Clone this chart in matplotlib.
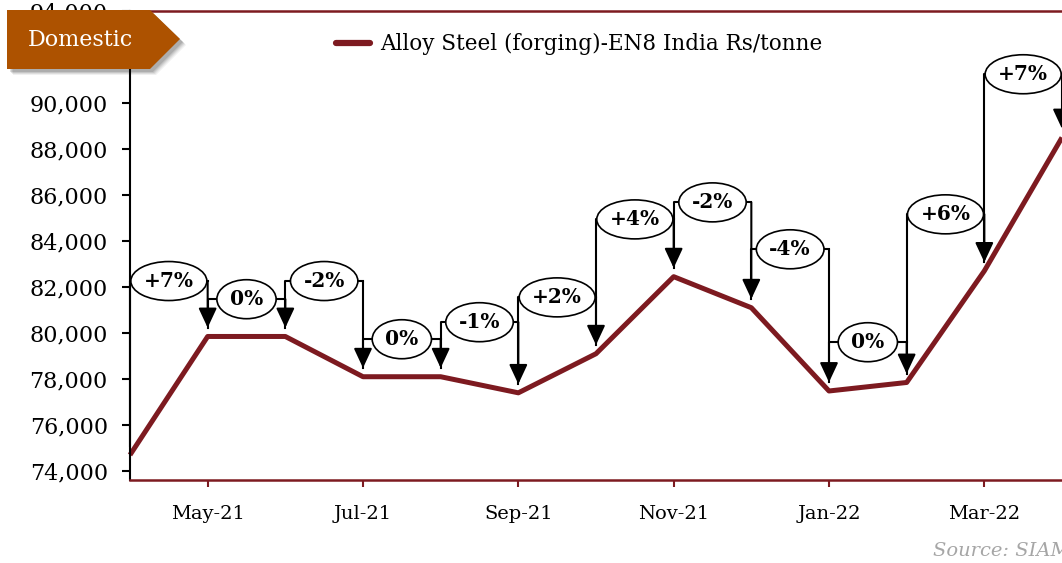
import matplotlib.pyplot as plt
from matplotlib.patches import Polygon, Ellipse
from matplotlib.ticker import FuncFormatter

# monthly price, Apr-21 .. Apr-22
months = ['Apr-21', 'May-21', 'Jun-21', 'Jul-21', 'Aug-21', 'Sep-21', 'Oct-21',
          'Nov-21', 'Dec-21', 'Jan-22', 'Feb-22', 'Mar-22', 'Apr-22']
prices = [74700, 79850, 79850, 78100, 78100, 77400, 79100,
          82450, 81100, 77480, 77850, 82700, 88500]

# month-on-month change callouts (label, height of the bracket)
change_labels = ['+7%', '0%', '-2%', '0%', '-1%', '+2%', '+4%', '-2%', '-4%', '0%', '+6%', '+7%']
label_levels = [82260, 81470, 82260, 79730, 80470, 81550, 84940, 85680, 83640, 79600, 85160, 91250]

yticks = list(range(74000, 94001, 2000))

LINE_RED = '#7D1A20'
BANNER = '#AD5200'
SERIF = ['DejaVu Serif']

W, H = 1062, 563
fig = plt.figure(figsize=(W / 100, H / 100), dpi=100)
ax = fig.add_axes([130 / W, 83 / H, 932 / W, 469 / H])

x = list(range(len(months)))
ax.plot(x, prices, color=LINE_RED, lw=3.6, solid_capstyle='butt', zorder=2,
        label='Alloy Steel (forging)-EN8 India Rs/tonne', clip_on=False)

ax.set_xlim(0, 12)
ax.set_ylim(73610, 94000)

# pixel -> data scale (axes box is fixed)
ax_w_px = 932
ax_h_px = 469
xs = (ax.get_xlim()[1] - ax.get_xlim()[0]) / ax_w_px
ys = (ax.get_ylim()[1] - ax.get_ylim()[0]) / ax_h_px

# difference arrows
gap = 380
labels = []
for i, (lab, lev) in enumerate(zip(change_labels, label_levels)):
    x0, x1 = x[i], x[i + 1]
    y0, y1 = prices[i], prices[i + 1]
    ax.plot([x0, x0, x1], [y0 + gap, lev, lev], color='black', lw=1.5,
            zorder=3, clip_on=False)
    ax.annotate('', xy=(x1, y1 + gap), xytext=(x1, lev),
                arrowprops=dict(arrowstyle='-|>,head_length=0.6,head_width=0.28',
                                mutation_scale=20, lw=1.5, color='black',
                                shrinkA=0, shrinkB=0),
                zorder=3, annotation_clip=False)
    t = ax.text((x0 + x1) / 2, lev, lab, ha='center', va='center', fontsize=14.5,
                fontweight='bold', family=SERIF, zorder=6, clip_on=False)
    labels.append(t)

fig.canvas.draw()
renderer = fig.canvas.get_renderer()
for t in labels:
    tw = t.get_window_extent(renderer).width
    cx, cy = t.get_position()
    ax.add_patch(Ellipse((cx, cy), (tw + 26) * xs, 39 * ys, fc='white',
                         ec='black', lw=1.2, zorder=5, clip_on=False))

ax.set_yticks(yticks)
ax.yaxis.set_major_formatter(FuncFormatter(lambda v, p: f'{int(v):,}'))
ax.set_xticks(x[1::2])
ax.set_xticklabels(months[1::2])

ax.tick_params(axis='y', direction='out', length=6, width=1.5, color='black',
               pad=10, labelsize=16)
ax.tick_params(axis='x', direction='out', length=5, width=1.5, color=LINE_RED,
               pad=13, labelsize=14)
for t in ax.get_xticklabels() + ax.get_yticklabels():
    t.set_family(SERIF)

ax.spines['right'].set_visible(False)
ax.spines['left'].set_color('black')
ax.spines['left'].set_linewidth(1.5)
ax.spines['bottom'].set_color(LINE_RED)
ax.spines['bottom'].set_linewidth(1.8)
ax.spines['top'].set_color(LINE_RED)
ax.spines['top'].set_linewidth(1.8)

leg = ax.legend(loc='center left', bbox_to_anchor=(336 / W, 1 - 44 / H),
                bbox_transform=fig.transFigure, frameon=False, borderpad=0,
                borderaxespad=0, handlelength=1.6, handletextpad=0.45,
                prop={'family': SERIF, 'size': 15.5})
leg.get_lines()[0].set_linewidth(4.5)
leg.get_lines()[0].set_solid_capstyle('round')

# "Domestic" banner
def fpt(px, py):
    return (px / W, 1 - py / H)

shape = [(7, 10), (150, 10), (180, 39), (150, 69), (7, 69)]
for k, a in [(6, 0.06), (5, 0.08), (4, 0.1), (3, 0.12)]:
    fig.patches.append(Polygon([fpt(px + k, py + k) for px, py in shape],
                               closed=True, transform=fig.transFigure,
                               fc='black', ec='none', alpha=a, zorder=9))
fig.patches.append(Polygon([fpt(px, py) for px, py in shape], closed=True,
                           transform=fig.transFigure, fc=BANNER, ec='none', zorder=10))
fig.text(80 / W, 1 - 40 / H, 'Domestic', color='white', fontsize=16,
         family=SERIF, ha='center', va='center', zorder=11)

fig.text(933 / W, 1 - 551 / H, 'Source: SIAM', color='#A6A6A6', fontsize=14,
         style='italic', family=SERIF, ha='left', va='center')

fig.savefig('out.png', dpi=100)
